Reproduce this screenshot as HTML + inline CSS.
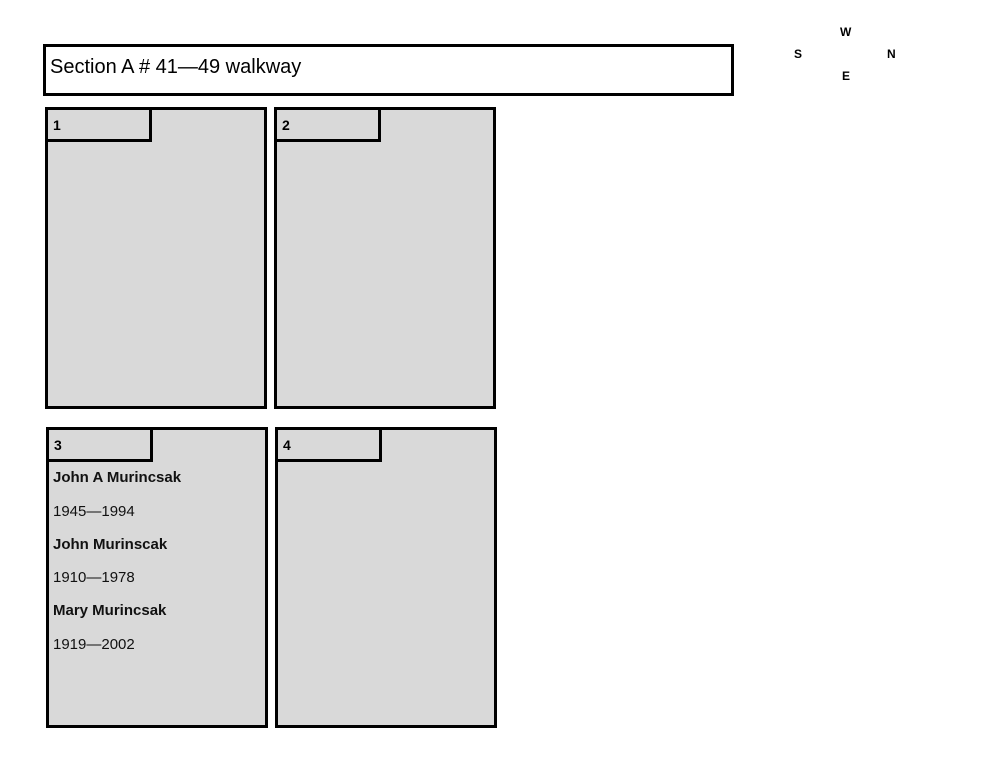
<!DOCTYPE html>
<html><head><style>
body{margin:0;width:1000px;height:773px;background:#fff;position:relative;font-family:"Liberation Sans",sans-serif;overflow:hidden}
.b{position:absolute;box-sizing:border-box;border:3px solid #000;background:#d9d9d9}
.t{position:absolute;left:-3px;top:-3px;width:107px;height:35px;box-sizing:border-box;border:3px solid #000;font-weight:bold;font-size:14px;padding:7px 0 0 5px}
.l{position:absolute;left:4px;font-size:15px;color:#111}
.bo{font-weight:bold}
.c{position:absolute;font-weight:bold;font-size:12px}
</style></head><body>
<div style="position:absolute;left:43px;top:44px;width:691px;height:52px;box-sizing:border-box;border:3px solid #000;font-size:20px;padding:9px 0 0 4px">Section A # 41—49 walkway</div>
<div class="c" style="left:840px;top:25px">W</div>
<div class="c" style="left:794px;top:47px">S</div>
<div class="c" style="left:887px;top:47px">N</div>
<div class="c" style="left:842px;top:69px">E</div>
<div class="b" style="left:45px;top:107px;width:222px;height:302px"><div class="t">1</div></div>
<div class="b" style="left:274px;top:107px;width:222px;height:302px"><div class="t">2</div></div>
<div class="b" style="left:46px;top:427px;width:222px;height:301px"><div class="t">3</div>
<div class="l bo" style="top:39px">John A Murincsak</div>
<div class="l" style="top:73px">1945—1994</div>
<div class="l bo" style="top:106px">John Murinscak</div>
<div class="l" style="top:139px">1910—1978</div>
<div class="l bo" style="top:172px">Mary Murincsak</div>
<div class="l" style="top:206px">1919—2002</div>
</div>
<div class="b" style="left:275px;top:427px;width:222px;height:301px"><div class="t">4</div></div>
</body></html>
